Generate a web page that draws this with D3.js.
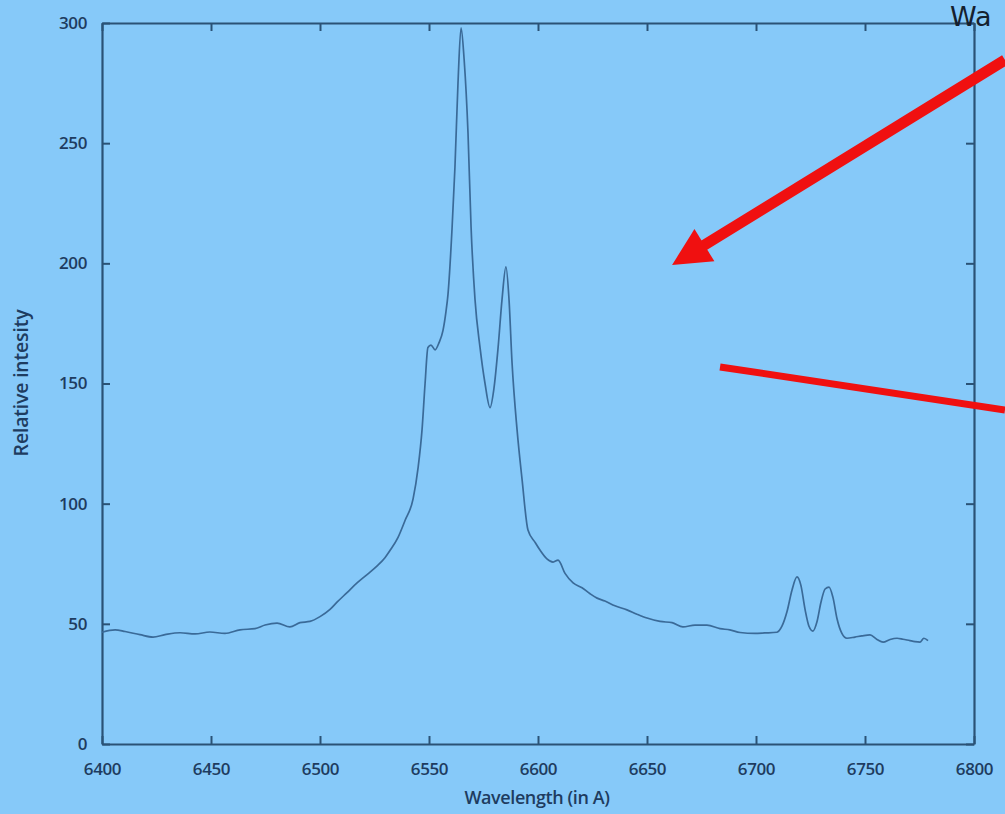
<!DOCTYPE html>
<html>
<head>
<meta charset="utf-8">
<script src="https://cdn.jsdelivr.net/npm/d3@7/dist/d3.min.js"></script>
<style>
html,body{margin:0;padding:0;background:#86c9f9;}
svg{display:block;}
</style>
</head>
<body>
<svg id="chart" width="1005" height="814"></svg>
<script>
// ---- data ----
const wavelength = [6400.0,6406.0,6410.6,6417.4,6423.4,6428.9,6435.8,6442.7,6449.5,6456.4,6463.3,6470.2,6474.8,6480.3,6486.2,6490.8,6495.4,6500.0,6504.6,6507.8,6512.4,6517.0,6521.6,6526.1,6529.8,6532.1,6535.8,6539.0,6542.7,6545.0,6546.8,6548.2,6549.5,6550.9,6552.8,6554.6,6556.4,6557.8,6558.7,6560.6,6561.9,6563.3,6564.7,6566.1,6567.9,6569.3,6571.1,6573.4,6575.7,6578.0,6579.8,6581.7,6583.5,6585.3,6586.7,6588.1,6590.4,6592.7,6595.4,6598.6,6600.9,6604.1,6606.9,6609.2,6612.4,6616.1,6620.2,6623.9,6627.1,6630.7,6635.3,6640.8,6645.4,6650.0,6656.0,6661.5,6666.5,6672.0,6677.5,6683.5,6688.0,6692.7,6699.5,6704.1,6709.6,6711.9,6714.2,6716.5,6718.8,6720.6,6722.5,6724.3,6726.1,6728.0,6729.8,6731.7,6733.5,6735.3,6737.2,6739.4,6741.7,6745.4,6748.6,6752.3,6755.5,6758.3,6761.5,6764.7,6767.4,6770.6,6772.9,6775.2,6777.0,6778.9];
const intensity = [46.5,47.5,46.8,45.5,44.5,45.5,46.3,45.8,46.6,46.0,47.5,48.0,49.5,50.3,48.7,50.5,51.0,53.0,56.0,59.0,63.0,67.0,70.5,74.0,77.5,80.5,86.0,93.0,102.0,115.0,130.7,150.0,165.0,166.0,164.0,167.0,172.0,180.0,187.0,215.0,240.0,275.0,298.0,285.0,254.0,215.0,185.0,165.0,150.0,140.0,148.0,165.0,185.0,198.5,185.0,158.5,130.7,110.0,89.0,84.0,80.7,77.0,75.7,76.5,71.0,67.0,65.0,62.5,60.7,59.5,57.5,55.8,54.0,52.4,51.0,50.5,48.7,49.5,49.5,48.0,47.5,46.4,46.0,46.2,46.5,49.0,55.0,64.0,69.5,66.0,56.0,49.0,47.0,51.0,59.0,64.5,65.3,61.0,52.0,46.0,44.0,44.5,45.0,45.4,43.5,42.4,43.5,44.0,43.6,43.0,42.6,42.4,44.0,43.0];
const xTicks = [6400,6450,6500,6550,6600,6650,6700,6750,6800];
const yTicks = [0,50,100,150,200,250,300];
const xLabel = "Wavelength (in A)";
const yLabel = "Relative intesity";
const cornerText = "Wa";
// annotation arrows in data coordinates [λ, I]
const arrowMain = [[6814.2,284.6],[6661.5,199.3]];
const lineSecond = [[6683.5,156.9],[6814.2,139.0]];

// ---- drawing ----
const svg = d3.select("#chart");
const x = d3.scaleLinear().domain([6400,6800]).range([102,974]);
const y = d3.scaleLinear().domain([0,300]).range([744,23]);
const axisCol = "#2a5276", textCol = "#1e3c60";

const fontFam = "'Open Sans', 'Liberation Sans', sans-serif";

function styleAxis(g){
  g.select(".domain").attr("stroke",axisCol).attr("stroke-width",2.2);
  g.selectAll(".tick line").attr("stroke",axisCol).attr("stroke-width",2);
  g.selectAll(".tick text").attr("fill",textCol).style("font-family",fontFam)
    .style("font-size","17px").style("font-weight","600").style("letter-spacing","-0.4px");
}

svg.append("g").attr("transform",`translate(0,${y(0)})`)
  .call(d3.axisBottom(x).tickValues(xTicks).tickFormat(d3.format("d")).tickSizeInner(-8).tickSizeOuter(0).tickPadding(19))
  .call(styleAxis);
svg.append("g").attr("transform",`translate(0,${y(300)})`)
  .call(d3.axisTop(x).tickValues(xTicks).tickFormat("").tickSizeInner(-8).tickSizeOuter(0))
  .call(styleAxis);
svg.append("g").attr("transform",`translate(${x(6400)},0)`)
  .call(d3.axisLeft(y).tickValues(yTicks).tickFormat(d3.format("d")).tickSizeInner(-8).tickSizeOuter(0).tickPadding(15))
  .call(styleAxis);
svg.append("g").attr("transform",`translate(${x(6800)},0)`)
  .call(d3.axisRight(y).tickValues(yTicks).tickFormat("").tickSizeInner(-8).tickSizeOuter(0))
  .call(styleAxis);

// spectrum line
const pts = wavelength.map((w,i)=>[w,intensity[i]]);
svg.append("path").datum(pts)
  .attr("fill","none").attr("stroke","#3a6a98").attr("stroke-width",1.7)
  .attr("stroke-linejoin","round")
  .attr("d",d3.line().x(d=>x(d[0])).y(d=>y(d[1])).curve(d3.curveMonotoneX));

// axis titles
svg.append("text").attr("x",537).attr("y",804)
  .attr("text-anchor","middle").attr("fill",textCol)
  .style("font-family",fontFam).style("font-size","18px").style("font-weight","600").style("letter-spacing","-0.4px")
  .text(xLabel);
svg.append("text").attr("transform",`translate(28,383) rotate(-90)`)
  .attr("text-anchor","middle").attr("fill",textCol)
  .style("font-family",fontFam).style("font-size","19.5px").style("font-weight","600").style("letter-spacing","-0.2px")
  .text(yLabel);

// corner text
svg.append("text").attr("x",950).attr("y",26).attr("fill","#15202e")
  .style("font-family","'DejaVu Sans', sans-serif").style("font-size","27px")
  .text(cornerText);

// red annotations
const red = "#f01010";
const [s,t] = arrowMain.map(d=>[x(d[0]),y(d[1])]);
const ang = Math.atan2(t[1]-s[1], t[0]-s[0]);
const headLen = 38, headW = 19;
const bx = t[0]-headLen*Math.cos(ang), by = t[1]-headLen*Math.sin(ang);
svg.append("line").attr("x1",s[0]).attr("y1",s[1]).attr("x2",bx+4*Math.cos(ang)).attr("y2",by+4*Math.sin(ang))
  .attr("stroke",red).attr("stroke-width",11);
svg.append("path").attr("fill",red)
  .attr("d",`M${t[0]},${t[1]} L${bx+headW*Math.sin(ang)},${by-headW*Math.cos(ang)} L${bx-headW*Math.sin(ang)},${by+headW*Math.cos(ang)} Z`);
const l2 = lineSecond.map(d=>[x(d[0]),y(d[1])]);
svg.append("line").attr("x1",l2[0][0]).attr("y1",l2[0][1]).attr("x2",l2[1][0]).attr("y2",l2[1][1])
  .attr("stroke",red).attr("stroke-width",7);
</script>
</body>
</html>
